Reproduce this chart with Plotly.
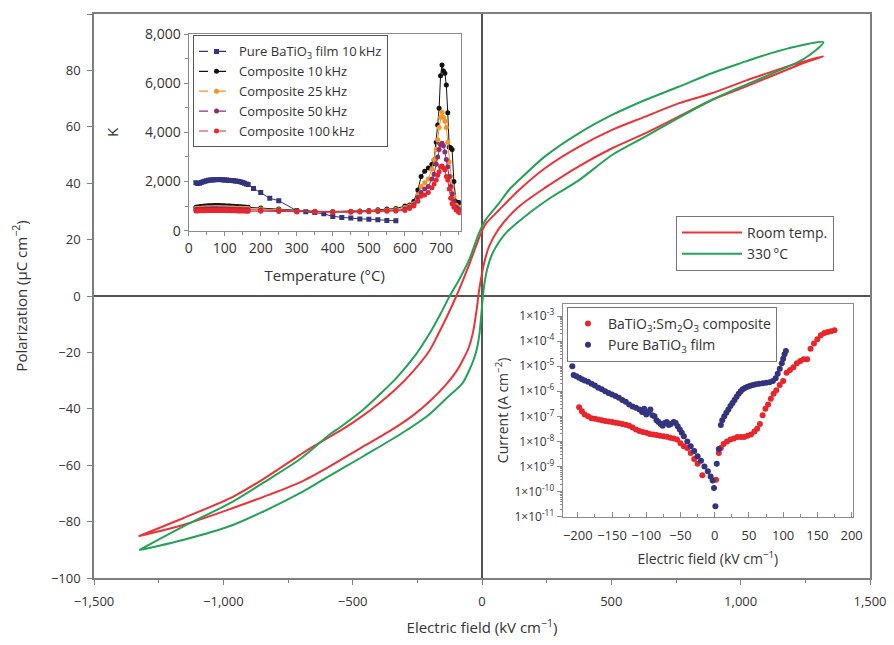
import plotly.graph_objects as go

# ---------------- Main P-E hysteresis loops ----------------
E_red_down = [1320, 1248, 1184, 1055, 1017, 888, 760, 631, 503, 374, 246, 143, 66, 14, -5, -24, -50, -76, -99, -134,
              -169, -204, -269, -333, -397, -462, -526, -590, -655, -706, -847, -963, -1156, -1325]
P_red_down = [85, 83.3, 81.5, 77.5, 76.3, 71.9, 68.3, 63.6, 58.9, 52.9, 45.5, 37.6, 30.5, 25.5, 22, 17.5, 11, 5, 0, -7,
              -13.5, -19.5, -27, -33, -38, -42.5, -46.5, -50, -53.5, -56.5, -65, -71.2, -78.8, -85.1]
E_red_up = [-1325, -1156, -963, -847, -706, -590, -462, -359, -269, -204, -140, -101, -70, -50, -35, -25, -18, -12, -4,
            8, 27, 66, 143, 246, 374, 503, 631, 760, 888, 1017, 1120, 1248, 1320]
P_red_up = [-85.1, -81.2, -75.2, -71.3, -66.2, -60.5, -53.5, -48, -42.5, -37.5, -31.5, -27, -22, -18, -13, -7.5, -3, 1.5,
            6, 11.6, 17.5, 24, 31.7, 38.5, 46, 52.4, 57.7, 63.6, 69.5, 74.2, 78.0, 82.8, 85]

E_grn_down = [1320, 1184, 1055, 1017, 888, 760, 631, 503, 374, 246, 143, 104, 66, 14, -12, -50, -89, -125, -159, -204,
              -256, -333, -397, -462, -551, -590, -706, -847, -963, -1156, -1325]
P_grn_down = [90, 87.8, 84.3, 83.1, 79, 74.2, 69.5, 64.2, 57.7, 49.7, 41.1, 37.6, 32.9, 27, 22.2, 12.8, 5.7, 0, -6.1,
              -13.5, -20.8, -29.3, -35, -40.5, -46.7, -49.2, -58, -66.3, -72.9, -81.8, -90.1]
E_grn_up = [-1325, -1156, -963, -847, -706, -616, -462, -307, -204, -140, -76, -50, -30, -18, -10, -4, 1, 8, 20, 40,
            91, 181, 271, 374, 503, 631, 760, 888, 991, 1120, 1248, 1320]
P_grn_up = [-90.1, -86.5, -81.2, -76.5, -70, -65.2, -57, -48.5, -42, -36.5, -31, -26.5, -22, -18, -13.5, -8, -2.5, 3.5,
            9.5, 15, 22.2, 29.3, 35.2, 41, 50, 56.5, 63.2, 69.5, 73.8, 78.8, 84.3, 90]

main_x_ticks = [-1500, -1000, -500, 0, 500, 1000, 1500]
main_x_text = ["\u22121,500", "\u22121,000", "\u2212500", "0", "500", "1,000", "1,500"]
main_y_ticks = [-100, -80, -60, -40, -20, 0, 20, 40, 60, 80, 100]
main_y_text = ["\u2212100", "\u221280", "\u221260", "\u221240", "\u221220", "0", "20", "40", "60", "80", "100"]

# ---------------- Inset 1: permittivity K vs temperature ----------------
T_pure = [20, 25, 30, 35, 40, 45, 50, 55, 60, 65, 70, 75, 80, 85, 90, 95, 100, 105, 110, 115, 120, 125, 130, 135, 140,
          145, 150, 155, 160, 165, 180, 200, 225, 250, 300, 325, 350, 375, 400, 425, 450, 475, 500, 525, 550, 575]
K_pure = [1950, 1920, 1930, 1960, 1990, 2010, 2030, 2050, 2060, 2060, 2070, 2070, 2080, 2080, 2070, 2070, 2060, 2060,
          2050, 2040, 2040, 2030, 2020, 2010, 2000, 1980, 1960, 1930, 1900, 1880, 1720, 1550, 1320, 1220, 810, 770, 740,
          690, 580, 540, 520, 480, 470, 440, 410, 400]

T_comp = [20, 25, 30, 35, 40, 45, 50, 55, 60, 65, 70, 75, 80, 85, 90, 95, 100, 105, 110, 115, 120, 125, 130, 135, 140,
          145, 150, 155, 160, 165,
          200, 250, 300, 350, 400, 450, 475, 500, 525, 550, 575,
          600, 613, 625, 636, 645, 655, 665, 675, 681, 687, 691, 695, 699, 703, 707, 711, 715, 719, 723, 727, 731, 736,
          742, 748, 752]
K_10k = [950, 960, 970, 980, 990, 1000, 1000, 1010, 1010, 1010, 1020, 1020, 1020, 1020, 1010, 1010, 1010, 1000, 1000,
         1000, 990, 990, 980, 980, 970, 970, 960, 960, 950, 950,
         920, 880, 820, 790, 780, 790, 800, 820, 850, 880, 900,
         1000, 1044, 1200, 1654, 2200, 2420, 2550, 2700, 2875, 3600, 4300, 4977, 6300, 6740, 6500, 6400, 5925, 4800,
         3400, 3376, 3300, 2000, 1180, 1150, 1140]
K_25k = [900, 905, 910, 915, 920, 925, 930, 930, 935, 935, 940, 940, 940, 940, 935, 935, 930, 930, 925, 925, 920, 920,
         915, 915, 910, 910, 905, 905, 900, 900,
         880, 850, 800, 780, 770, 780, 790, 800, 820, 840, 860,
         940, 1000, 1100, 1450, 1800, 1950, 2100, 2500, 2900, 3300, 3700, 4200, 4610, 4814, 4600, 4450, 4200, 3600,
         2800, 2200, 1800, 1400, 1044, 960, 940]
K_50k = [860, 865, 870, 870, 875, 880, 880, 885, 885, 890, 890, 890, 890, 885, 885, 880, 880, 880, 875, 875, 870, 870,
         865, 865, 860, 860, 855, 855, 850, 850,
         840, 820, 790, 770, 760, 770, 780, 790, 800, 810, 820,
         880, 950, 1050, 1350, 1550, 1700, 1800, 2100, 2300, 2700, 3000, 3300, 3500, 3553, 3450, 3200, 2900, 2600,
         2200, 1800, 1500, 1200, 950, 880, 850]
K_100k = [800, 805, 810, 810, 815, 815, 820, 820, 820, 825, 825, 825, 825, 820, 820, 820, 820, 815, 815, 815, 810, 810,
          810, 805, 805, 800, 800, 800, 795, 795,
          790, 780, 760, 750, 740, 750, 760, 770, 780, 790, 800,
          820, 900, 1000, 1200, 1400, 1450, 1550, 1750, 1900, 2061, 2250, 2400, 2600, 2630, 2550, 2468, 2200, 2061,
          1700, 1315, 1100, 950, 840, 770, 732]

# ---------------- Inset 2: leakage current vs field ----------------
E_comp_I = [-198, -194, -190, -185, -180, -175, -170, -165, -160, -155, -150, -145, -140, -135, -130, -125, -120, -115,
            -110, -105, -100, -95, -90, -85, -80, -75, -70, -65, -60, -55, -50, -45, -40, -35, -30, -25, -18,
            2, 6, 9, 13, 18, 23, 28, 33, 38, 43, 48, 53, 58, 62, 66, 70, 74, 78, 82, 86, 90, 95, 100, 105, 110, 115,
            120, 125, 130, 135, 140, 145, 150, 155, 160, 165, 170, 175]
I_comp = [2.3e-7, 1.6e-7, 1.2e-7, 1.0e-7, 8.5e-8, 8.0e-8, 7.5e-8, 7.0e-8, 6.5e-8, 6.2e-8, 6.0e-8, 5.6e-8, 5.3e-8,
          5.0e-8, 4.6e-8, 4.2e-8, 3.6e-8, 3.0e-8, 2.6e-8, 2.4e-8, 2.2e-8, 2.0e-8, 1.9e-8, 1.8e-8, 1.7e-8, 1.6e-8,
          1.55e-8, 1.4e-8, 1.3e-8, 1.2e-8, 8.5e-9, 6.5e-9, 5.5e-9, 3.5e-9, 2.0e-9, 1.3e-9, 4.5e-10,
          3.0e-10, 3.5e-9, 5.5e-9, 8.0e-9, 1.0e-8, 1.2e-8, 1.3e-8, 1.5e-8, 1.5e-8, 1.5e-8, 1.7e-8, 1.9e-8, 2.5e-8,
          3.2e-8, 5.0e-8, 1.1e-7, 2.0e-7, 3.0e-7, 5.0e-7, 8.0e-7, 1.1e-6, 1.8e-6, 2.6e-6, 5.5e-6, 7.0e-6, 9.0e-6,
          1.3e-5, 1.6e-5, 1.9e-5, 1.9e-5, 5.0e-5, 8.0e-5, 1.2e-4, 1.7e-4, 2.1e-4, 2.3e-4, 2.5e-4, 2.7e-4]

E_pure_I = [-208, -206, -202, -198, -194, -190, -185, -180, -175, -170, -165, -160, -155, -150, -145, -140, -135, -130,
            -125, -120, -115, -110, -106, -103, -100, -97, -94, -91, -88, -85, -82, -79, -76, -73, -70, -67, -64, -60,
            -57, -54, -51, -48, -45, -40, -35, -30, -25, -20, -15, -10, -6, -3, -1,
            1, 3, 6, 9, 11, 14, 17, 20, 23, 26, 29, 32, 35, 38, 41, 44, 48, 52, 56, 60, 65, 70, 75, 80, 85, 89, 92,
            95, 98, 100, 102, 104]
I_pure = [1.0e-5, 4.5e-6, 4.0e-6, 3.5e-6, 3.0e-6, 2.7e-6, 2.4e-6, 2.0e-6, 1.7e-6, 1.4e-6, 1.2e-6, 1.0e-6, 8.5e-7,
          7.5e-7, 6.5e-7, 5.5e-7, 4.5e-7, 3.8e-7, 3.0e-7, 2.5e-7, 2.2e-7, 1.9e-7, 1.5e-7, 2.0e-7, 1.2e-7, 1.5e-7,
          1.9e-7, 1.1e-7, 1.0e-7, 7.0e-8, 6.0e-8, 5.0e-8, 4.2e-8, 5.5e-8, 6.0e-8, 4.5e-8, 5.0e-8, 6.0e-8, 5.5e-8,
          4.0e-8, 3.0e-8, 2.2e-8, 1.6e-8, 1.0e-8, 6.5e-9, 4.2e-9, 2.6e-9, 1.7e-9, 1.0e-9, 6.5e-10, 4.0e-10,
          2.8e-10, 1.4e-10,
          2.6e-11, 1.3e-9, 5.0e-9, 4.5e-8, 7.0e-8, 1.0e-7, 1.4e-7, 1.9e-7, 2.6e-7, 3.4e-7, 4.5e-7, 6.0e-7, 8.0e-7,
          1.0e-6, 1.2e-6, 1.35e-6, 1.5e-6, 1.65e-6, 1.8e-6, 1.9e-6, 2.0e-6, 2.1e-6, 2.2e-6, 2.3e-6, 2.6e-6, 3.3e-6,
          5.0e-6, 8.0e-6, 1.3e-5, 2.0e-5, 3.0e-5, 4.0e-5]

log_ticks = [1e-11, 1e-10, 1e-9, 1e-8, 1e-7, 1e-6, 1e-5, 1e-4, 1e-3]
log_text = ["1\u00d710<sup>-11</sup>", "1\u00d710<sup>-10</sup>", "1\u00d710<sup>-9</sup>", "1\u00d710<sup>-8</sup>",
            "1\u00d710<sup>-7</sup>", "1\u00d710<sup>-6</sup>", "1\u00d710<sup>-5</sup>", "1\u00d710<sup>-4</sup>",
            "1\u00d710<sup>-3</sup>"]
ins2_x_ticks = [-200, -150, -100, -50, 0, 50, 100, 150, 200]
ins2_x_text = ["\u2212200", "\u2212150", "\u2212100", "\u221250", "0", "50", "100", "150", "200"]
log_minor = [m * d for d in log_ticks[:-1] for m in range(2, 10)]

# ---------------- Styling ----------------
FONT = "Open Sans, Roboto, DejaVu Sans, sans-serif"
TXT = "#333333"
RED = "#ec3338"
GREEN = "#23a356"
NAVY = "#33337f"
ORANGE = "#f7941d"
PURPLE = "#8e2c78"
IRED = "#e8262b"
AX = "#7f7f7f"
INS = "#8a8a8a"

fig = go.Figure()

fig.add_trace(go.Scatter(x=E_red_down + E_red_up, y=P_red_down + P_red_up, mode="lines",
                         line=dict(color=RED, width=2, shape="spline", smoothing=0.8),
                         name="Room temp.", legend="legend"))
fig.add_trace(go.Scatter(x=E_grn_down + E_grn_up, y=P_grn_down + P_grn_up, mode="lines",
                         line=dict(color=GREEN, width=2, shape="spline", smoothing=0.8),
                         name="330\u2009\u00b0C", legend="legend"))

ins1 = [
    ("Pure BaTiO<sub>3</sub> film 10\u2009kHz", T_pure, K_pure, NAVY, "square"),
    ("Composite 10\u2009kHz", T_comp, K_10k, "#111111", "circle"),
    ("Composite 25\u2009kHz", T_comp, K_25k, ORANGE, "circle"),
    ("Composite 50\u2009kHz", T_comp, K_50k, PURPLE, "circle"),
    ("Composite 100\u2009kHz", T_comp, K_100k, IRED, "circle"),
]
for name, xs, ys, col, sym in ins1:
    fig.add_trace(go.Scatter(x=xs, y=ys, mode="lines+markers", xaxis="x2", yaxis="y2",
                             line=dict(color=col, width=1), marker=dict(color=col, size=5, symbol=sym),
                             showlegend=False, name=name))
for name, xs, ys, col, sym in ins1:
    fig.add_trace(go.Scatter(x=[None], y=[None], mode="lines+markers", xaxis="x2", yaxis="y2",
                             line=dict(color=col, width=1.2, dash="dash"), marker=dict(color=col, size=5, symbol=sym),
                             name=name, legend="legend2"))

fig.add_trace(go.Scatter(x=E_comp_I, y=I_comp, mode="markers", xaxis="x3", yaxis="y3",
                         marker=dict(color=IRED, size=6),
                         name="BaTiO<sub>3</sub>:Sm<sub>2</sub>O<sub>3</sub> composite", legend="legend3"))
fig.add_trace(go.Scatter(x=E_pure_I, y=I_pure, mode="markers", xaxis="x3", yaxis="y3",
                         marker=dict(color=NAVY, size=6), name="Pure BaTiO<sub>3</sub> film", legend="legend3"))


def tfont(size):
    return dict(family=FONT, size=size, color=TXT)


# plot area in page pixels: x 94..870, y 14..578 (page has an 8 px body margin;
# figure height kept small enough that the page does not scroll)
fig.update_layout(
    width=886, height=629,
    margin=dict(l=86, r=24, t=6, b=59, autoexpand=False),
    paper_bgcolor="white", plot_bgcolor="white",
    font=tfont(14),
    xaxis=dict(showgrid=False, showline=True, mirror=True, linecolor=AX, linewidth=1.5,
               range=[-1500, 1500], tickmode="array", tickvals=main_x_ticks, ticktext=main_x_text,
               ticks="outside", ticklen=5, tickcolor=AX, tickfont=tfont(13), ticklabelstandoff=6,
               minor=dict(ticks="outside", ticklen=3, dtick=250, tickcolor=AX),
               zeroline=True, zerolinecolor="#555555", zerolinewidth=1.5,
               title=dict(text="Electric field (kV cm<sup>\u22121</sup>)", font=tfont(15), standoff=14)),
    yaxis=dict(showgrid=False, showline=True, mirror=True, linecolor=AX, linewidth=1.5,
               range=[-100, 100], tickmode="array", tickvals=main_y_ticks, ticktext=main_y_text,
               ticks="outside", ticklen=5, tickcolor=AX, tickfont=tfont(13), ticklabelstandoff=4,
               zeroline=True, zerolinecolor="#555555", zerolinewidth=1.5,
               title=dict(text="Polarization (\u03bcC cm<sup>\u22122</sup>)", font=tfont(15), standoff=20)),
    xaxis2=dict(showgrid=False, showline=True, mirror=True, linecolor=INS, linewidth=1.2,
                domain=[0.1220, 0.4726], anchor="y2", range=[0, 755],
                tickmode="array", tickvals=[0, 100, 200, 300, 400, 500, 600, 700],
                ticks="outside", ticklen=4, tickcolor=INS, tickfont=tfont(14),
                minor=dict(ticks="outside", ticklen=3, dtick=50, tickcolor=INS), zeroline=False,
                title=dict(text="Temperature (\u00b0C)", font=tfont(15), standoff=14)),
    yaxis2=dict(showgrid=False, showline=True, mirror=True, linecolor=INS, linewidth=1.2,
                domain=[0.6158, 0.9645], anchor="x2", range=[0, 8000],
                tickmode="array", tickvals=[0, 2000, 4000, 6000, 8000],
                ticktext=["0", "2,000", "4,000", "6,000", "8,000"],
                ticks="outside", ticklen=4, tickcolor=INS, tickfont=tfont(14),
                minor=dict(ticks="outside", ticklen=3, dtick=1000, tickcolor=INS), zeroline=False,
                title=dict(text="K", font=tfont(15), standoff=22)),
    xaxis3=dict(showgrid=False, showline=True, mirror=True, linecolor=INS, linewidth=1.2,
                domain=[0.6040, 0.9781], anchor="y3", range=[-222, 202],
                tickmode="array", tickvals=ins2_x_ticks, ticktext=ins2_x_text,
                ticks="inside", ticklen=5, tickcolor=INS, tickfont=tfont(13), ticklabelstandoff=7,
                minor=dict(ticks="inside", ticklen=3, dtick=25, tickcolor=INS), zeroline=False,
                title=dict(text="Electric field (kV cm<sup>\u22121</sup>)", font=tfont(14), standoff=10)),
    yaxis3=dict(showgrid=False, showline=True, mirror=True, linecolor=INS, linewidth=1.2,
                type="log", domain=[0.1087, 0.4858], anchor="x3", range=[-11, -2.52],
                tickmode="array", tickvals=log_ticks, ticktext=log_text,
                ticks="outside", ticklen=5, tickcolor=INS, tickfont=tfont(12),
                minor=dict(ticks="outside", ticklen=2, tickcolor=INS, tickmode="array", tickvals=log_minor),
                zeroline=False,
                title=dict(text="Current (A cm<sup>\u22122</sup>)", font=tfont(14), standoff=2)),
    legend=dict(x=0.750, y=0.642, xanchor="left", yanchor="top", bgcolor="white",
                bordercolor="#777777", borderwidth=1, itemwidth=60, font=tfont(14), tracegroupgap=0),
    legend2=dict(x=0.1276, y=0.962, xanchor="left", yanchor="top", bgcolor="white",
                 bordercolor="#555555", borderwidth=1, itemwidth=35, font=tfont(13), tracegroupgap=0),
    legend3=dict(x=0.6095, y=0.4805, xanchor="left", yanchor="top", bgcolor="white",
                 bordercolor="#777777", borderwidth=1, itemwidth=30, font=tfont(14), tracegroupgap=0),
)

fig.write_html("out.html")
